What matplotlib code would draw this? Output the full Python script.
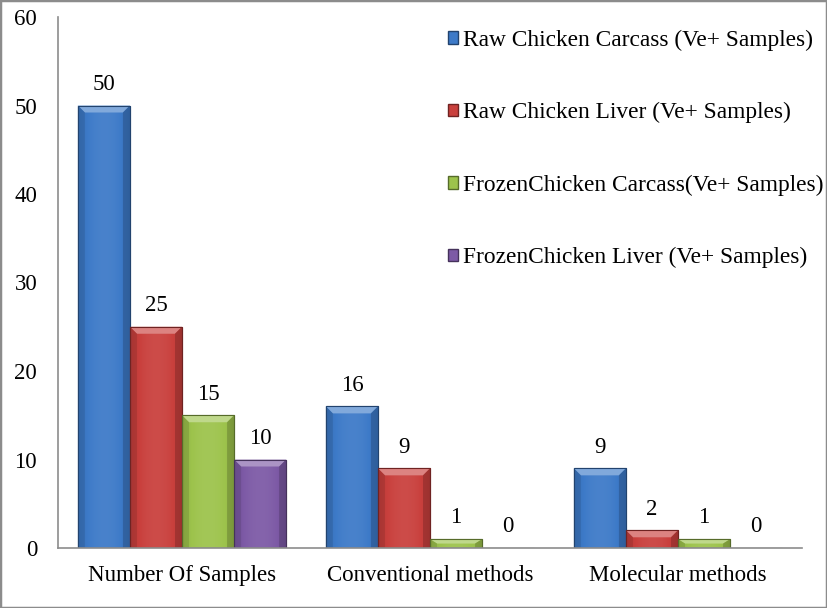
import numpy as np
import matplotlib.pyplot as plt
from matplotlib.patches import Patch, Rectangle, Polygon
from matplotlib.colors import to_rgb

plt.rcParams['font.family'] = ['Liberation Serif', 'DejaVu Serif']

# data
categories = ["Number Of Samples", "Conventional methods", "Molecular methods"]
series = ["Raw Chicken Carcass (Ve+ Samples)",
          "Raw Chicken Liver (Ve+ Samples)",
          "FrozenChicken Carcass(Ve+ Samples)",
          "FrozenChicken Liver (Ve+ Samples)"]
raw_carcass = [50, 16, 9]
raw_liver = [25, 9, 2]
frozen_carcass = [15, 1, 1]
frozen_liver = [10, 0, 0]
values = [raw_carcass, raw_liver, frozen_carcass, frozen_liver]
colors = ["#3d7ac8", "#c9403d", "#9dc34c", "#7d5aa6"]
FS = 16.5

fig = plt.figure(figsize=(8.27, 6.08), dpi=100)
ax = fig.add_axes([58 / 827, 1 - 548 / 608, 744 / 827, 531 / 608])

x = np.arange(len(categories))
w = 0.21
offsets = (np.arange(4) - 1.5) * w


def shade(c, f):
    r = np.array(to_rgb(c))
    if f < 1:
        return tuple(r * f)
    return tuple(r + (1 - r) * (f - 1))


bx = 7 / 248   # bevel width in data units (x)
by = 7 / 8.85  # bevel height in data units (y)

for i, (vals, c) in enumerate(zip(values, colors)):
    bars = ax.bar(x + offsets[i], vals, w, color=c, edgecolor=shade(c, 0.55),
                  linewidth=0.8, label=series[i], zorder=2)
    for b, v in zip(bars, vals):
        if v > 0:
            x0, x1 = b.get_x(), b.get_x() + w
            # horizontal gradient, lighter in the middle
            g = np.linspace(0, 1, 60)
            prof = 0.86 + 0.2 * np.sin(np.pi * g) ** 0.6
            img = np.array([[shade(c, p) for p in prof]])
            im = ax.imshow(img, extent=[x0, x1, 0, v],
                           aspect='auto', zorder=2.1, interpolation='bilinear')
            im.set_clip_path(b)
            hy = min(by, v * 0.5)
            # bevel: top strip and side strips
            ax.add_patch(Polygon([(x0, v), (x1, v), (x1 - bx, v - hy), (x0 + bx, v - hy)],
                                 closed=True, facecolor=shade(c, 1.35),
                                 edgecolor='none', zorder=2.2))
            ax.add_patch(Polygon([(x0, 0), (x0, v), (x0 + bx, v - hy), (x0 + bx, 0)],
                                 closed=True, facecolor=shade(c, 0.8),
                                 edgecolor='none', alpha=0.6, zorder=2.2))
            ax.add_patch(Polygon([(x1, 0), (x1, v), (x1 - bx, v - hy), (x1 - bx, 0)],
                                 closed=True, facecolor=shade(c, 0.7),
                                 edgecolor='none', alpha=0.6, zorder=2.2))
            ax.add_patch(Rectangle((x0, 0), w, v, facecolor='none',
                                   edgecolor=shade(c, 0.55), linewidth=0.8,
                                   zorder=2.3))
        ax.text(b.get_x() + w / 2, v + 2.4, str(v), ha='center', va='center',
                fontsize=FS)

ax.set_xlim(-0.5, 2.5)
ax.set_ylim(0, 60)
ax.set_yticks(range(0, 61, 10))
ax.set_xticks(x)
ax.set_xticklabels(categories)
ax.tick_params(axis='both', length=0, labelsize=FS)
ax.tick_params(axis='y', pad=15)
ax.tick_params(axis='x', pad=12)
for s in ['top', 'right']:
    ax.spines[s].set_visible(False)
for s in ['left', 'bottom']:
    ax.spines[s].set_color('#8c8c8c')
    ax.spines[s].set_linewidth(1.2)

handles = [Patch(facecolor=c, edgecolor=shade(c, 0.55)) for c in colors]
ax.legend(handles, series, loc='upper left', bbox_to_anchor=(436 / 827, 1 - 18 / 608),
          bbox_transform=fig.transFigure, frameon=False, fontsize=16.8,
          handlelength=0.44, handleheight=0.44, handletextpad=0.2,
          labelspacing=2.2, borderpad=0)

# figure border
fig.patches.append(Rectangle((0, 0), 1, 1, transform=fig.transFigure,
                             fill=False, edgecolor='#8c8c8c', linewidth=2.5))

fig.savefig("out.png", dpi=100)
